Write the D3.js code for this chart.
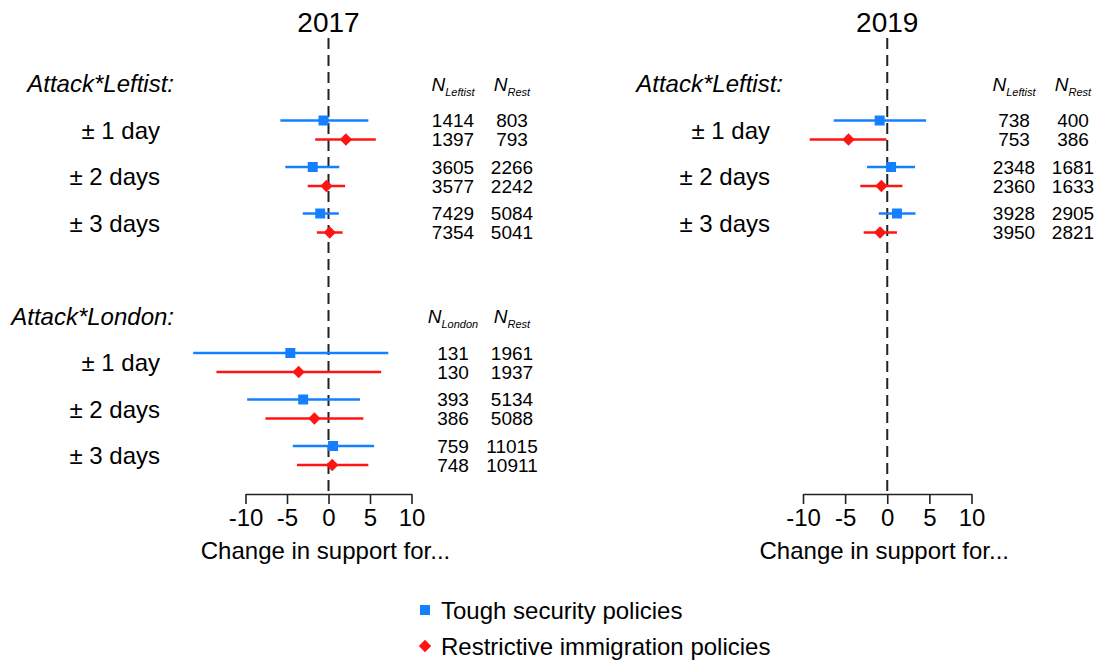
<!DOCTYPE html>
<meta charset="utf-8">
<script src="https://d3js.org/d3.v7.min.js"></script>
<style>
  body { margin: 0; background: #fff; }
  text { font-family: "Liberation Sans", Arial, sans-serif; fill: #000; }
</style>
<div id="chart"></div>
<script>
// rijen en reeksen
var groups = ["± 1 day", "± 2 days", "± 3 days"];
var series = ["Tough security policies", "Restrictive immigration policies"];
var ticks = [-10, -5, 0, 5, 10];

// 2017, Attack*Leftist
var est17L_sec = [-0.6, -1.9, -1.0], lo17L_sec = [-5.8, -5.2, -3.1], hi17L_sec = [4.8, 1.3, 1.25];
var est17L_imm = [2.1, -0.25, 0.15], lo17L_imm = [-1.6, -2.5, -1.4], hi17L_imm = [5.7, 2.0, 1.7];
var n17L_grp_sec = [1414, 3605, 7429], n17L_grp_imm = [1397, 3577, 7354];
var n17L_rest_sec = [803, 2266, 5084], n17L_rest_imm = [793, 2242, 5041];

// 2017, Attack*London
var est17Lo_sec = [-4.6, -3.05, 0.55], lo17Lo_sec = [-16.3, -9.8, -4.3], hi17Lo_sec = [7.2, 3.8, 5.5];
var est17Lo_imm = [-3.6, -1.7, 0.45], lo17Lo_imm = [-13.5, -7.6, -3.8], hi17Lo_imm = [6.35, 4.2, 4.8];
var n17Lo_grp_sec = [131, 393, 759], n17Lo_grp_imm = [130, 386, 748];
var n17Lo_rest_sec = [1961, 5134, 11015], n17Lo_rest_imm = [1937, 5088, 10911];

// 2019, Attack*Leftist
var est19L_sec = [-0.9, 0.45, 1.15], lo19L_sec = [-6.35, -2.4, -1.0], hi19L_sec = [4.6, 3.3, 3.35];
var est19L_imm = [-4.6, -0.7, -0.85], lo19L_imm = [-9.2, -3.2, -2.8], hi19L_imm = [-0.1, 1.8, 1.15];
var n19L_grp_sec = [738, 2348, 3928], n19L_grp_imm = [753, 2360, 3950];
var n19L_rest_sec = [400, 1681, 2905], n19L_rest_imm = [386, 1633, 2821];

var colors = ["#1580FF", "#FF1414"];

var W = 1099, H = 664;
var svg = d3.select("#chart").append("svg").attr("width", W).attr("height", H);

// verticale positie: rij-index (header = -1 / 4)
var y = d3.scaleLinear().domain([0, 1]).range([130, 176.5]);
var off = 9.5;
var axisY = 494;

function block(name, nName, est, lo, hi, ngrp, nrest, start) {
  return { name: name, nName: nName, start: start,
    rows: groups.map(function(g, i) {
      return { label: g, idx: start + i,
        vals: [
          { s: 0, est: est[0][i], lo: lo[0][i], hi: hi[0][i], n1: ngrp[0][i], n2: nrest[0][i] },
          { s: 1, est: est[1][i], lo: lo[1][i], hi: hi[1][i], n1: ngrp[1][i], n2: nrest[1][i] }
        ] };
    }) };
}

var panels = [
  { year: "2017", range: [245.5, 411.5], labelEnd: 160, headEnd: 174, col1: 453, col2: 512,
    blocks: [
      block("Attack*Leftist:", "Leftist", [est17L_sec, est17L_imm], [lo17L_sec, lo17L_imm], [hi17L_sec, hi17L_imm],
            [n17L_grp_sec, n17L_grp_imm], [n17L_rest_sec, n17L_rest_imm], 0),
      block("Attack*London:", "London", [est17Lo_sec, est17Lo_imm], [lo17Lo_sec, lo17Lo_imm], [hi17Lo_sec, hi17Lo_imm],
            [n17Lo_grp_sec, n17Lo_grp_imm], [n17Lo_rest_sec, n17Lo_rest_imm], 5)
    ] },
  { year: "2019", range: [803, 971.5], labelEnd: 770, headEnd: 783, col1: 1014, col2: 1073,
    blocks: [
      block("Attack*Leftist:", "Leftist", [est19L_sec, est19L_imm], [lo19L_sec, lo19L_imm], [hi19L_sec, hi19L_imm],
            [n19L_grp_sec, n19L_grp_imm], [n19L_rest_sec, n19L_rest_imm], 0)
    ] }
];

var sqr = d3.symbol().type(d3.symbolSquare).size(100)();
var dia = d3.symbol().type(d3.symbolSquare).size(76)();

panels.forEach(function(p) {
  var x = d3.scaleLinear().domain([-10, 10]).range(p.range);
  var g = svg.append("g");

  g.append("text").attr("x", x(0)).attr("y", 22).attr("text-anchor", "middle")
    .attr("dominant-baseline", "central").style("font-size", "28px").text(p.year);

  // nul-lijn
  g.append("line").attr("x1", x(0)).attr("x2", x(0)).attr("y1", 38).attr("y2", axisY)
    .attr("stroke", "#222").attr("stroke-width", 2).attr("stroke-dasharray", "11,6");

  // x-as
  var ax = g.append("g").attr("transform", "translate(0," + axisY + ")")
    .call(d3.axisBottom(x).tickValues(ticks).tickFormat(function(d) { return String(d); })
      .tickSize(10).tickSizeOuter(0).tickPadding(5));
  ax.select(".domain").attr("stroke", "#222").attr("stroke-width", 1.6);
  ax.selectAll(".tick line").attr("stroke", "#222").attr("stroke-width", 1.6);
  ax.selectAll(".tick text").style("font-size", "24px").style("font-family", "Liberation Sans, Arial, sans-serif").attr("fill", "#000");

  g.append("text").attr("x", x(0) - 3).attr("y", 550).attr("text-anchor", "middle")
    .attr("dominant-baseline", "central").style("font-size", "24px").text("Change in support for...");

  p.blocks.forEach(function(b) {
    var hy = y(b.start - 1);
    g.append("text").attr("x", p.headEnd).attr("y", hy).attr("text-anchor", "end")
      .attr("dominant-baseline", "central").style("font-size", "24px").style("font-style", "italic").text(b.name);

    [[p.col1, b.nName], [p.col2, "Rest"]].forEach(function(c) {
      var t = g.append("text").attr("x", c[0]).attr("y", hy + 7).attr("text-anchor", "middle")
        .style("font-size", "19px").style("font-style", "italic");
      t.append("tspan").text("N");
      t.append("tspan").attr("dy", 5).style("font-size", "11px").text(c[1]);
    });

    b.rows.forEach(function(r) {
      var ry = y(r.idx);
      g.append("text").attr("x", p.labelEnd).attr("y", ry).attr("text-anchor", "end")
        .attr("dominant-baseline", "central").style("font-size", "24px").text(r.label);

      r.vals.forEach(function(v) {
        var vy = ry + (v.s === 0 ? -off : off);
        g.append("line").attr("x1", x(v.lo)).attr("x2", x(v.hi)).attr("y1", vy).attr("y2", vy)
          .attr("stroke", colors[v.s]).attr("stroke-width", 2.5);
        g.append("path").attr("d", v.s === 0 ? sqr : dia)
          .attr("transform", "translate(" + x(v.est) + "," + vy + ")" + (v.s === 1 ? " rotate(45)" : ""))
          .attr("fill", colors[v.s]);
        g.append("text").attr("x", p.col1).attr("y", vy).attr("text-anchor", "middle")
          .attr("dominant-baseline", "central").style("font-size", "19px").text(v.n1);
        g.append("text").attr("x", p.col2).attr("y", vy).attr("text-anchor", "middle")
          .attr("dominant-baseline", "central").style("font-size", "19px").text(v.n2);
      });
    });
  });
});

// legenda
var leg = svg.append("g");
series.forEach(function(s, i) {
  var ly = 610 + i * 36;
  leg.append("path").attr("d", i === 0 ? sqr : dia)
    .attr("transform", "translate(425," + ly + ")" + (i === 1 ? " rotate(45)" : ""))
    .attr("fill", colors[i]);
  leg.append("text").attr("x", 441).attr("y", ly).attr("dominant-baseline", "central")
    .style("font-size", "24px").text(s);
});
</script>
